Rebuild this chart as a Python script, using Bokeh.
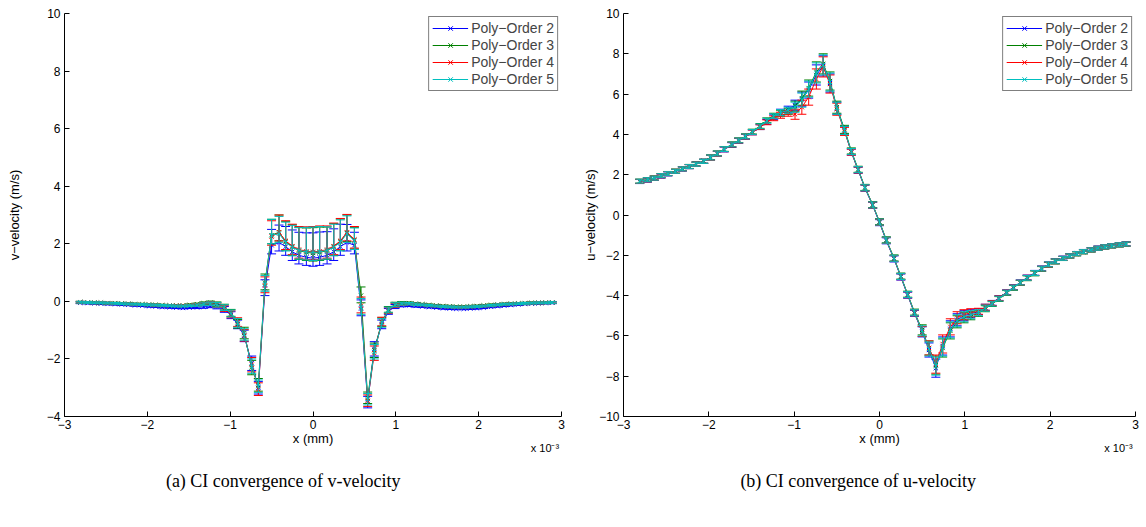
import numpy as np
from bokeh.plotting import figure
from bokeh.models import Legend, LegendItem, LinearAxis, FixedTicker
from bokeh.layouts import row
from bokeh.embed import file_html
from bokeh.resources import INLINE

# x positions (units of 1e-3 m, as read on the axes)
x_pos = [-2.81, -2.72, -2.64, -2.56, -2.48, -2.39, -2.31, -2.23, -2.15, -2.06,
         -1.98, -1.90, -1.82, -1.73, -1.65, -1.57, -1.49, -1.40, -1.32, -1.24,
         -1.16, -1.07, -0.99, -0.91, -0.83, -0.74, -0.66, -0.58, -0.50, -0.41,
         -0.33, -0.25, -0.17, -0.08, 0.00, 0.08, 0.17, 0.25, 0.33, 0.41,
         0.50, 0.58, 0.66, 0.74, 0.83, 0.91, 0.99, 1.07, 1.16, 1.24,
         1.32, 1.40, 1.49, 1.57, 1.65, 1.73, 1.82, 1.90, 1.98, 2.06,
         2.15, 2.23, 2.31, 2.39, 2.48, 2.56, 2.64, 2.72, 2.81, 2.89]

series_names = ["Poly\u2212Order 2", "Poly\u2212Order 3", "Poly\u2212Order 4", "Poly\u2212Order 5"]
series_colors = ["#0000ff", "#008000", "#ff0000", "#00bfbf"]

# ---- v-velocity (m/s) ----
v_order2 = [-0.05, -0.06, -0.07, -0.08, -0.09, -0.10, -0.11, -0.12, -0.14, -0.15,
            -0.17, -0.18, -0.20, -0.21, -0.22, -0.23, -0.22, -0.21, -0.19, -0.16,
            -0.18, -0.28, -0.48, -0.80, -1.20, -2.15, -3.00, 0.45, 1.95, 2.05,
            1.90, 1.72, 1.60, 1.53, 1.50, 1.53, 1.60, 1.72, 1.90, 2.05,
            1.95, -0.25, -3.50, -1.65, -0.80, -0.35, -0.18, -0.14, -0.14, -0.16,
            -0.18, -0.20, -0.22, -0.24, -0.25, -0.26, -0.26, -0.25, -0.24, -0.22,
            -0.19, -0.17, -0.15, -0.13, -0.11, -0.09, -0.08, -0.07, -0.06, -0.05]
v_order3 = [-0.03, -0.04, -0.04, -0.05, -0.06, -0.06, -0.07, -0.08, -0.09, -0.10,
            -0.11, -0.12, -0.13, -0.14, -0.14, -0.14, -0.12, -0.10, -0.07, -0.05,
            -0.10, -0.20, -0.40, -0.78, -1.10, -2.30, -2.90, 0.65, 2.30, 2.40,
            2.08, 1.90, 1.76, 1.70, 1.68, 1.70, 1.76, 1.90, 2.08, 2.38,
            2.12, 0.20, -3.35, -1.70, -0.72, -0.28, -0.10, -0.06, -0.06, -0.08,
            -0.10, -0.12, -0.14, -0.16, -0.17, -0.18, -0.18, -0.17, -0.16, -0.14,
            -0.12, -0.11, -0.09, -0.08, -0.07, -0.06, -0.05, -0.05, -0.04, -0.04]
v_order4 = [-0.03, -0.04, -0.05, -0.05, -0.06, -0.07, -0.08, -0.09, -0.10, -0.11,
            -0.12, -0.13, -0.14, -0.15, -0.15, -0.15, -0.14, -0.12, -0.09, -0.07,
            -0.13, -0.25, -0.45, -0.72, -1.18, -2.20, -3.05, 0.55, 2.25, 2.40,
            2.10, 1.92, 1.80, 1.74, 1.72, 1.74, 1.80, 1.92, 2.10, 2.40,
            2.15, -0.15, -3.45, -1.80, -0.70, -0.32, -0.14, -0.09, -0.08, -0.10,
            -0.12, -0.14, -0.16, -0.18, -0.19, -0.20, -0.20, -0.19, -0.18, -0.16,
            -0.14, -0.12, -0.10, -0.09, -0.08, -0.07, -0.06, -0.05, -0.05, -0.04]
v_order5 = [-0.03, -0.04, -0.05, -0.05, -0.06, -0.07, -0.08, -0.09, -0.10, -0.11,
            -0.12, -0.13, -0.14, -0.15, -0.16, -0.16, -0.15, -0.13, -0.10, -0.08,
            -0.12, -0.22, -0.42, -0.75, -1.15, -2.25, -2.95, 0.60, 2.30, 2.35,
            2.05, 1.88, 1.77, 1.72, 1.70, 1.72, 1.77, 1.88, 2.05, 2.35,
            2.10, -0.20, -3.40, -1.75, -0.75, -0.30, -0.12, -0.08, -0.08, -0.10,
            -0.12, -0.14, -0.16, -0.18, -0.19, -0.20, -0.20, -0.19, -0.18, -0.16,
            -0.14, -0.12, -0.10, -0.09, -0.08, -0.07, -0.06, -0.05, -0.05, -0.04]
v_err_lo = [0.03, 0.03, 0.03, 0.03, 0.03, 0.03, 0.03, 0.03, 0.03, 0.03,
            0.03, 0.03, 0.03, 0.03, 0.03, 0.03, 0.03, 0.04, 0.05, 0.06,
            0.08, 0.10, 0.12, 0.15, 0.20, 0.25, 0.22, 0.25, 0.30, 0.30,
            0.30, 0.30, 0.30, 0.28, 0.28, 0.28, 0.30, 0.30, 0.30, 0.30,
            0.30, 0.25, 0.20, 0.25, 0.15, 0.10, 0.07, 0.05, 0.04, 0.04,
            0.03, 0.03, 0.03, 0.03, 0.03, 0.03, 0.03, 0.03, 0.03, 0.03,
            0.03, 0.03, 0.03, 0.03, 0.03, 0.03, 0.03, 0.03, 0.03, 0.03]
v_err_hi = [0.03, 0.03, 0.03, 0.03, 0.03, 0.03, 0.03, 0.03, 0.03, 0.03,
            0.03, 0.03, 0.03, 0.03, 0.03, 0.03, 0.03, 0.04, 0.05, 0.06,
            0.08, 0.10, 0.12, 0.15, 0.20, 0.25, 0.22, 0.30, 0.55, 0.60,
            0.70, 0.76, 0.80, 0.85, 0.88, 0.88, 0.82, 0.80, 0.78, 0.62,
            0.45, 0.30, 0.20, 0.25, 0.15, 0.10, 0.07, 0.05, 0.04, 0.04,
            0.03, 0.03, 0.03, 0.03, 0.03, 0.03, 0.03, 0.03, 0.03, 0.03,
            0.03, 0.03, 0.03, 0.03, 0.03, 0.03, 0.03, 0.03, 0.03, 0.03]

# ---- u-velocity (m/s) ----
u_order2 = [1.66, 1.73, 1.82, 1.93, 2.04, 2.16, 2.28, 2.40, 2.53, 2.67,
            2.85, 3.04, 3.25, 3.47, 3.68, 3.88, 4.10, 4.36, 4.62, 4.85,
            5.10, 5.25, 5.45, 5.75, 6.20, 6.95, 7.40, 6.55, 5.30, 4.20,
            3.12, 2.22, 1.33, 0.48, -0.38, -1.28, -2.18, -3.08, -3.98, -4.88,
            -5.80, -6.70, -7.60, -6.50, -5.65, -5.20, -5.00, -4.90, -4.80, -4.58,
            -4.36, -4.12, -3.83, -3.58, -3.34, -3.10, -2.87, -2.65, -2.45, -2.29,
            -2.14, -2.02, -1.91, -1.81, -1.72, -1.64, -1.58, -1.52, -1.47, -1.43]
u_order3 = [1.68, 1.76, 1.84, 1.96, 2.06, 2.18, 2.30, 2.41, 2.53, 2.67,
            2.86, 3.06, 3.28, 3.51, 3.71, 3.91, 4.14, 4.42, 4.70, 4.93,
            5.05, 5.15, 5.40, 5.80, 6.30, 7.10, 7.50, 6.65, 5.35, 4.25,
            3.18, 2.27, 1.37, 0.52, -0.33, -1.23, -2.13, -3.03, -3.93, -4.82,
            -5.70, -6.60, -7.45, -6.60, -5.75, -5.30, -5.10, -5.00, -4.88, -4.65,
            -4.42, -4.17, -3.87, -3.62, -3.37, -3.14, -2.90, -2.68, -2.47, -2.31,
            -2.16, -2.04, -1.93, -1.83, -1.74, -1.66, -1.59, -1.54, -1.49, -1.45]
u_order4 = [1.67, 1.74, 1.83, 1.94, 2.05, 2.17, 2.29, 2.40, 2.52, 2.66,
            2.84, 3.04, 3.26, 3.49, 3.69, 3.89, 4.10, 4.36, 4.60, 4.80,
            4.95, 5.05, 5.00, 5.35, 5.85, 6.75, 7.35, 6.50, 5.25, 4.15,
            3.12, 2.23, 1.34, 0.49, -0.36, -1.26, -2.16, -3.06, -3.96, -4.86,
            -5.78, -6.60, -7.40, -6.40, -5.55, -5.10, -4.95, -4.85, -4.78, -4.58,
            -4.37, -4.13, -3.84, -3.59, -3.35, -3.11, -2.88, -2.66, -2.46, -2.30,
            -2.15, -2.03, -1.92, -1.82, -1.73, -1.65, -1.58, -1.53, -1.48, -1.44]
u_order5 = [1.68, 1.75, 1.83, 1.95, 2.05, 2.17, 2.29, 2.40, 2.52, 2.66,
            2.85, 3.05, 3.27, 3.50, 3.70, 3.90, 4.12, 4.40, 4.68, 4.90,
            5.08, 5.20, 5.35, 5.70, 6.25, 7.05, 7.45, 6.60, 5.30, 4.20,
            3.15, 2.25, 1.35, 0.50, -0.35, -1.25, -2.15, -3.05, -3.95, -4.85,
            -5.75, -6.65, -7.50, -6.55, -5.70, -5.25, -5.05, -4.95, -4.85, -4.62,
            -4.40, -4.15, -3.85, -3.60, -3.35, -3.12, -2.88, -2.66, -2.45, -2.30,
            -2.15, -2.03, -1.92, -1.82, -1.73, -1.65, -1.58, -1.53, -1.48, -1.44]
u_err = [0.10, 0.10, 0.10, 0.10, 0.10, 0.10, 0.10, 0.10, 0.10, 0.10,
         0.12, 0.12, 0.12, 0.12, 0.12, 0.12, 0.12, 0.12, 0.12, 0.12,
         0.15, 0.15, 0.25, 0.35, 0.40, 0.50, 0.50, 0.45, 0.30, 0.20,
         0.15, 0.15, 0.15, 0.15, 0.15, 0.15, 0.15, 0.15, 0.15, 0.15,
         0.25, 0.35, 0.45, 0.45, 0.40, 0.30, 0.25, 0.20, 0.15, 0.15,
         0.12, 0.12, 0.12, 0.12, 0.12, 0.12, 0.12, 0.12, 0.12, 0.12,
         0.10, 0.10, 0.10, 0.10, 0.10, 0.10, 0.10, 0.10, 0.10, 0.10]

x_ticks = [-3, -2, -1, 0, 1, 2, 3]
v_ticks = [-4, -2, 0, 2, 4, 6, 8, 10]
u_ticks = [-10, -8, -6, -4, -2, 0, 2, 4, 6, 8, 10]

SANS = "Liberation Sans"
SERIF = "Liberation Serif"


def text_axis(pos, text, font, size, standoff):
    """An axis without line or ticks, used only to hold one piece of text below the plot."""
    return LinearAxis(ticker=FixedTicker(ticks=[pos], minor_ticks=[]),
                      major_label_overrides={pos: text},
                      axis_line_color=None, major_tick_line_color=None,
                      minor_tick_line_color=None,
                      major_label_standoff=standoff,
                      major_label_text_font=font,
                      major_label_text_font_size=size,
                      major_label_text_color="black")


def make_panel(series, err_lo, err_hi, ylabel, yr, yticks, caption, caption_pos,
               frame_w, border_left, border_right, ylabel_standoff):
    p = figure(frame_width=frame_w, frame_height=403, x_range=(-3, 3), y_range=yr,
               output_backend="svg", toolbar_location=None,
               min_border_left=border_left, min_border_right=border_right,
               min_border_top=13, min_border_bottom=111)
    p.outline_line_color = None
    p.xgrid.visible = False
    p.ygrid.visible = False
    p.background_fill_color = "white"
    p.border_fill_color = "white"

    x = np.array(x_pos)
    lo = np.array(err_lo)
    hi = np.array(err_hi)
    items = []
    for name, color, vals in zip(series_names, series_colors, series):
        y = np.array(vals)
        p.segment(x0=x, y0=y - lo, x1=x, y1=y + hi, line_color=color, line_width=1)
        p.scatter(x, y + hi, marker="dash", size=9, line_color=color, line_width=1)
        p.scatter(x, y - lo, marker="dash", size=9, line_color=color, line_width=1)
        lr = p.line(x, y, line_color=color, line_width=1)
        mr = p.scatter(x, y, marker="x", size=6, line_color=color, line_width=1)
        items.append(LegendItem(label=name, renderers=[lr, mr]))

    legend = Legend(items=items, location="top_right", margin=3,
                    border_line_color="black", border_line_width=1,
                    background_fill_color="white", background_fill_alpha=1,
                    label_text_font=SANS, label_text_font_size="14px",
                    glyph_width=36, glyph_height=16, label_height=16,
                    spacing=1, padding=3, label_standoff=3)
    p.add_layout(legend)

    for ax in (p.xaxis[0], p.yaxis[0]):
        ax.axis_line_color = "black"
        ax.axis_line_width = 1
        ax.major_tick_in = 5
        ax.major_tick_out = 0
        ax.minor_tick_in = 0
        ax.minor_tick_out = 0
        ax.major_tick_line_color = "black"
        ax.major_label_text_font = SANS
        ax.major_label_text_font_size = "12px"
        ax.major_label_text_color = "black"
        ax.axis_label_text_font = SANS
        ax.axis_label_text_font_size = "13px"
        ax.axis_label_text_font_style = "normal"
        ax.axis_label_text_color = "black"
    p.xaxis[0].ticker = x_ticks
    p.yaxis[0].ticker = yticks
    p.yaxis[0].axis_label = ylabel
    p.xaxis[0].major_label_standoff = 3
    p.yaxis[0].major_label_standoff = 4
    p.yaxis[0].axis_label_standoff = ylabel_standoff

    p.add_layout(text_axis(0, "x (mm)", SANS, "13px", -7), "below")
    p.add_layout(text_axis(2.8, "x 10\u207b\u00b3", SANS, "11px", -13), "below")
    p.add_layout(text_axis(caption_pos, caption, SERIF, "18px", 8), "below")
    return p


p1 = make_panel([v_order2, v_order3, v_order4, v_order5], v_err_lo, v_err_hi,
                "v\u2212velocity (m/s)", (-4, 10), v_ticks,
                "(a) CI convergence of v-velocity", -0.36, 497, 64, 19, 22)
p2 = make_panel([u_order2, u_order3, u_order4, u_order5], u_err, u_err,
                "u\u2212velocity (m/s)", (-10, 10), u_ticks,
                "(b) CI convergence of u-velocity", -0.25, 512, 38, 16, -2)

layout = row(p1, p2)
open("out.html", "w").write(file_html(layout, INLINE))
